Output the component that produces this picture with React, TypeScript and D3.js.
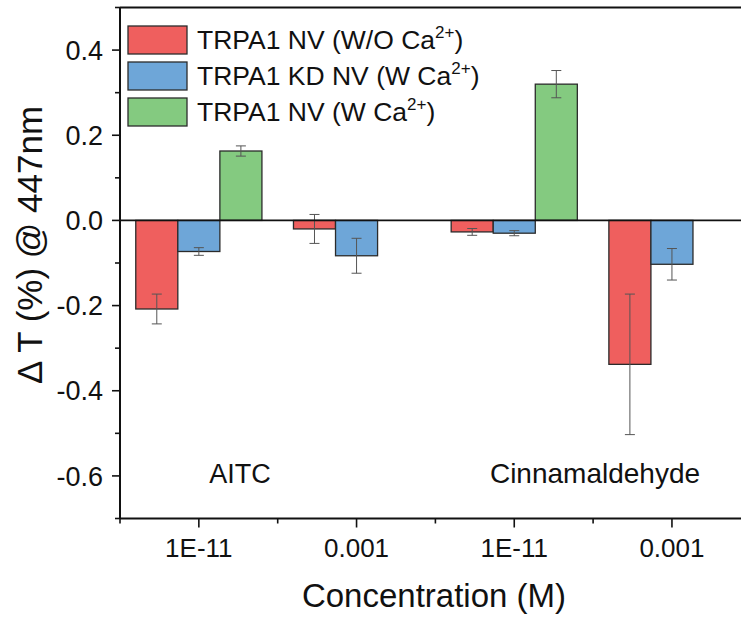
import React from 'react';
import * as d3 from 'd3';

// concentrations on the x axis (two per compound)
const concentrations = ['1E-11', '0.001', '1E-11', '0.001'];
const compounds = ['AITC', 'Cinnamaldehyde'];

const seriesNames = ['TRPA1 NV (W/O Ca', 'TRPA1 KD NV (W Ca', 'TRPA1 NV (W Ca'];
const seriesColors = ['#ef5f5e', '#6ea6d8', '#84ca80'];

// mean values and errors
const noCa = [-0.208, -0.02, -0.027, -0.338];
const noCaErr = [0.035, 0.034, 0.008, 0.165];
const kdCa = [-0.073, -0.083, -0.03, -0.103];
const kdCaErr = [0.009, 0.041, 0.006, 0.037];
const withCa = [0.163, null, 0.32, null];
const withCaErr = [0.012, null, 0.032, null];

const yTicks = [-0.6, -0.4, -0.2, 0.0, 0.2, 0.4];
const yMinor = [-0.7, -0.5, -0.3, -0.1, 0.1, 0.3, 0.5];

const W = 741;
const H = 620;
const margin = { top: 7.5, left: 120, bottom: 101.5 };
const step = 157.7;
const font = "'Liberation Sans', Arial, sans-serif";

export default function App() {
  const series = [
    { vals: noCa, errs: noCaErr },
    { vals: kdCa, errs: kdCaErr },
    { vals: withCa, errs: withCaErr },
  ];

  const xRight = margin.left + step * concentrations.length;
  const x = d3.scaleBand<number>()
    .domain(concentrations.map((_, i) => i))
    .range([margin.left, xRight])
    .paddingInner(0.2)
    .paddingOuter(0.1);
  const xSub = d3.scaleBand<number>()
    .domain([0, 1, 2])
    .range([0, x.bandwidth()]);

  const y = d3.scaleLinear()
    .domain([-0.7, 0.5])
    .range([H - margin.bottom, margin.top]);

  const fmt = (v: number) => (v < 0 ? '-' : '') + Math.abs(v).toFixed(1);
  const axisY = H - margin.bottom;
  const minorX = concentrations.map((_, i) => margin.left + step * i);

  return (
    <svg width={W} height={H} style={{ position: 'absolute', left: 0, top: 0, background: '#fff' }}
      fontFamily={font}>
      {/* bars */}
      {series.map((s, si) =>
        s.vals.map((v, i) => {
          if (v === null) return null;
          const bx = (x(i) as number) + (xSub(si) as number);
          const y0 = y(0);
          const yv = y(v);
          return (
            <rect key={`b${si}-${i}`} x={bx} y={Math.min(y0, yv)} width={xSub.bandwidth()}
              height={Math.abs(yv - y0)} fill={seriesColors[si]} stroke="#2b2b2b" strokeWidth={1.3} />
          );
        })
      )}
      {/* error bars */}
      {series.map((s, si) =>
        s.vals.map((v, i) => {
          const e = s.errs[i];
          if (v === null || e === null) return null;
          const cx = (x(i) as number) + (xSub(si) as number) + xSub.bandwidth() / 2;
          const y1 = y(v + e);
          const y2 = y(v - e);
          return (
            <g key={`e${si}-${i}`} stroke="#555" strokeWidth={1}>
              <line x1={cx} x2={cx} y1={y1} y2={y2} />
              <line x1={cx - 5} x2={cx + 5} y1={y1} y2={y1} />
              <line x1={cx - 5} x2={cx + 5} y1={y2} y2={y2} />
            </g>
          );
        })
      )}
      {/* zero line */}
      <line x1={margin.left} x2={W} y1={y(0)} y2={y(0)} stroke="#111" strokeWidth={1.6} />

      {/* frame */}
      <line x1={margin.left} x2={W} y1={margin.top} y2={margin.top} stroke="#111" strokeWidth={2} />
      <line x1={margin.left} x2={W} y1={axisY} y2={axisY} stroke="#111" strokeWidth={2} />
      <line x1={margin.left} x2={margin.left} y1={margin.top} y2={axisY} stroke="#111" strokeWidth={2} />

      {/* y ticks */}
      {yTicks.map(t => (
        <g key={`yt${t}`}>
          <line x1={margin.left - 8} x2={margin.left} y1={y(t)} y2={y(t)} stroke="#111" strokeWidth={1.6} />
          <text x={margin.left - 17} y={y(t)} dy="0.36em" textAnchor="end" fontSize={27} fill="#111">{fmt(t)}</text>
        </g>
      ))}
      {yMinor.map(t => (
        <line key={`ym${t}`} x1={margin.left - 5} x2={margin.left} y1={y(t)} y2={y(t)} stroke="#111" strokeWidth={1.6} />
      ))}

      {/* x ticks */}
      {concentrations.map((c, i) => {
        const cx = (x(i) as number) + x.bandwidth() / 2;
        return (
          <g key={`xt${i}`}>
            <line x1={cx} x2={cx} y1={axisY} y2={axisY + 9} stroke="#111" strokeWidth={1.6} />
            <text x={cx} y={557} textAnchor="middle" fontSize={26} fill="#111">{c}</text>
          </g>
        );
      })}
      {minorX.map((mx, i) => (
        <line key={`xm${i}`} x1={mx} x2={mx} y1={axisY} y2={axisY + 5} stroke="#111" strokeWidth={1.6} />
      ))}

      {/* compound labels */}
      <text x={240} y={483} textAnchor="middle" fontSize={27} fill="#111">{compounds[0]}</text>
      <text x={595} y={483} textAnchor="middle" fontSize={28} fill="#111">{compounds[1]}</text>

      {/* axis titles */}
      <text x={434} y={607} textAnchor="middle" fontSize={33} fill="#111">Concentration (M)</text>
      <text transform="translate(42,384) rotate(-90)" textAnchor="start" fontSize={35} fill="#111">
        Δ T (%) @ 447nm
      </text>

      {/* legend */}
      {seriesNames.map((n, i) => (
        <g key={`lg${i}`} transform={`translate(128,${26 + i * 36})`}>
          <rect x={0} y={0} width={59} height={28} fill={seriesColors[i]} stroke="#2b2b2b" strokeWidth={1.3} />
          <text x={69} y={23} fontSize={26.5} fill="#111">
            {n}
            <tspan fontSize={17} dy={-11}>2+</tspan>
            <tspan dy={11}>)</tspan>
          </text>
        </g>
      ))}
    </svg>
  );
}
